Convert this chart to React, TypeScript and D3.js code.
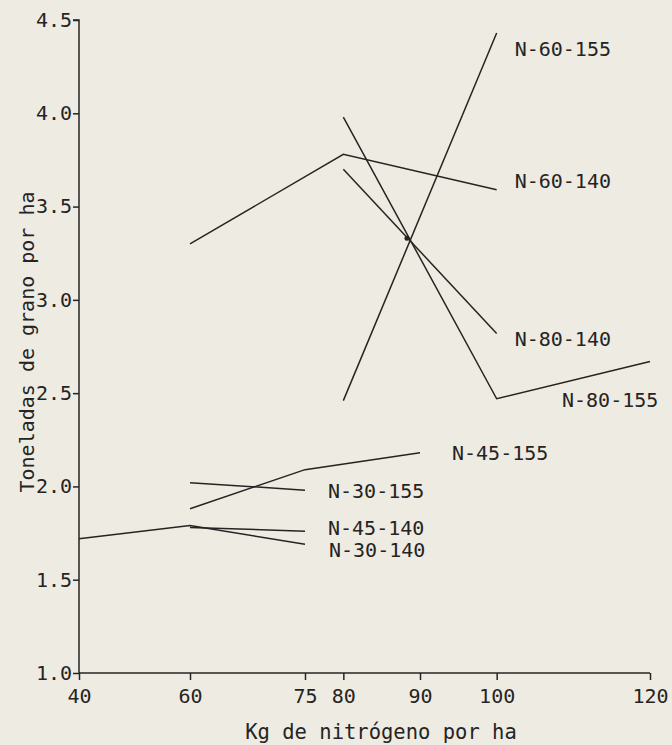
import React, { useEffect, useRef } from "react";
import * as d3 from "d3";

// ---- data ----
const xTickValues = [40, 60, 75, 80, 90, 100, 120];
const yTickValues = [1.0, 1.5, 2.0, 2.5, 3.0, 3.5, 4.0, 4.5];

const seriesNames = [
  "N-60-155",
  "N-60-140",
  "N-80-140",
  "N-80-155",
  "N-45-155",
  "N-30-155",
  "N-45-140",
  "N-30-140",
];
const n60_155_x = [80, 100];
const n60_155_y = [2.46, 4.43];
const n60_140_x = [60, 80, 100];
const n60_140_y = [3.3, 3.78, 3.59];
const n80_140_x = [80, 100];
const n80_140_y = [3.7, 2.82];
const n80_155_x = [80, 100, 120];
const n80_155_y = [3.98, 2.47, 2.67];
const n45_155_x = [60, 75, 90];
const n45_155_y = [1.88, 2.09, 2.18];
const n30_155_x = [60, 75];
const n30_155_y = [2.02, 1.98];
const n45_140_x = [60, 75];
const n45_140_y = [1.78, 1.76];
const n30_140_x = [40, 60, 75];
const n30_140_y = [1.72, 1.79, 1.69];

// small ink dot near the crossing of the lines
const dotX = [88.3];
const dotY = [3.33];

const seriesX = [n60_155_x, n60_140_x, n80_140_x, n80_155_x, n45_155_x, n30_155_x, n45_140_x, n30_140_x];
const seriesY = [n60_155_y, n60_140_y, n80_140_y, n80_155_y, n45_155_y, n30_155_y, n45_140_y, n30_140_y];

// label offsets (px) relative to each series' last point
const labelDx = [18, 18, 18, -88, 32, 23, 23, 24];
const labelDy = [23, -2, 13, 46, 7, 8, 4, 13];

const W = 672;
const H = 745;
const FONT = "'DejaVu Sans Mono', monospace";
const INK = "#262422";
const PAPER = "#eeebe3";

export default function App() {
  const ref = useRef<SVGSVGElement>(null);

  const x = d3.scaleLinear().domain([40, 60, 120]).range([79, 190, 650]);
  const y = d3.scaleLinear().domain([1, 4.5]).range([673, 20]);

  useEffect(() => {
    const svg = d3.select(ref.current);
    const gx = svg.select<SVGGElement>("g.xaxis");
    const gy = svg.select<SVGGElement>("g.yaxis");
    gx.call(
      d3
        .axisBottom(x)
        .tickValues(xTickValues)
        .tickSize(7)
        .tickPadding(9)
        .tickFormat(d3.format("d") as any)
    );
    gy.call(
      d3
        .axisLeft(y)
        .tickValues(yTickValues)
        .tickSize(6)
        .tickPadding(1)
        .tickFormat(d3.format(".1f") as any)
    );
    [gx, gy].forEach((g) => {
      g.select(".domain").attr("stroke", INK).attr("stroke-width", 1.5);
      g.selectAll(".tick line").attr("stroke", INK).attr("stroke-width", 1.5);
      g.selectAll(".tick text")
        .attr("fill", INK)
        .style("font-family", FONT)
        .style("font-size", "20px");
      g.attr("font-family", null).attr("font-size", null);
    });
    gy.select(".domain").attr("d", `M0,${y(1)}V${y(4.5)}H-6`);
    gx.select(".domain").attr("d", `M${x(40)},0H${x(120)}`);
  }, []);

  const line = d3
    .line<[number, number]>()
    .x((d) => x(d[0]))
    .y((d) => y(d[1]));

  return (
    <svg
      ref={ref}
      width={W}
      height={H}
      style={{ position: "absolute", left: 0, top: 0, background: PAPER }}
    >
      <rect width={W} height={H} fill={PAPER} />
      <g className="xaxis" transform={`translate(0,${y(1)})`} />
      <g className="yaxis" transform={`translate(${x(40)},0)`} />
      {seriesNames.map((name, i) => {
        const pts = seriesX[i].map((v, j) => [v, seriesY[i][j]] as [number, number]);
        const last = pts[pts.length - 1];
        return (
          <g key={name}>
            <path d={line(pts) || ""} fill="none" stroke={INK} strokeWidth={1.5} />
            <text
              x={x(last[0]) + labelDx[i]}
              y={y(last[1]) + labelDy[i]}
              fill={INK}
              style={{ fontFamily: FONT, fontSize: "20px" }}
            >
              {name}
            </text>
          </g>
        );
      })}
      {dotX.map((v, i) => (
        <circle key={i} cx={x(v)} cy={y(dotY[i])} r={2.5} fill={INK} />
      ))}
      <text
        x={381}
        y={739}
        textAnchor="middle"
        fill={INK}
        style={{ fontFamily: FONT, fontSize: "20.5px" }}
      >
        Kg de nitrógeno por ha
      </text>
      <text
        transform={`translate(34,${342}) rotate(-90)`}
        textAnchor="middle"
        fill={INK}
        style={{ fontFamily: FONT, fontSize: "20px" }}
      >
        Toneladas de grano por ha
      </text>
    </svg>
  );
}
